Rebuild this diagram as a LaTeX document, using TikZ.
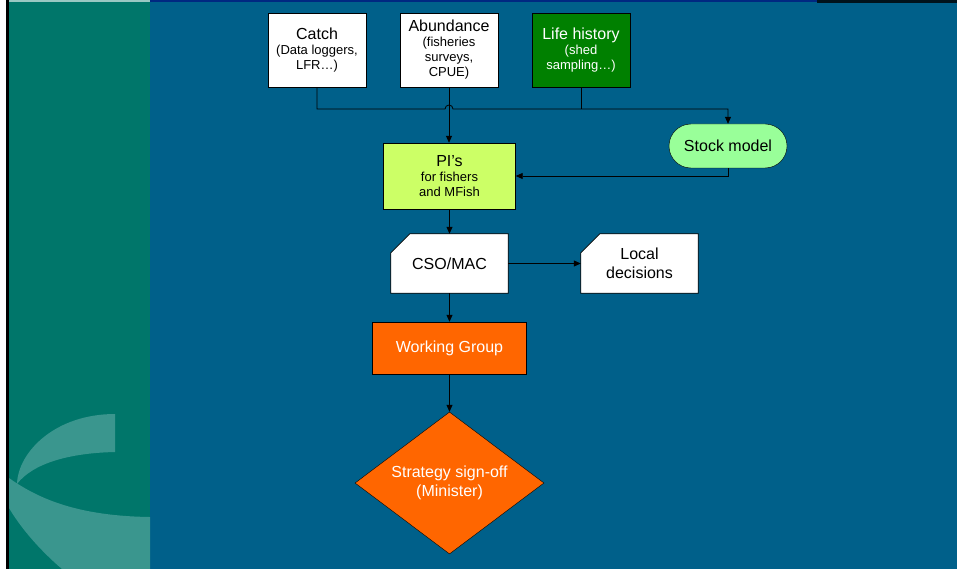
\documentclass[tikz,border=0pt]{standalone}
\usepackage{fontspec}
\setmainfont{Liberation Sans}
\usetikzlibrary{arrows.meta,shapes.geometric,backgrounds}

\definecolor{panelteal}{RGB}{0,118,106}
\definecolor{slideblue}{RGB}{0,96,138}
\definecolor{crescent}{RGB}{58,150,142}
\definecolor{lifegreen}{RGB}{0,128,0}
\definecolor{pigreen}{RGB}{204,255,102}
\definecolor{stockgreen}{RGB}{153,255,153}
\definecolor{wgorange}{RGB}{255,102,0}

\newcommand{\bigtxt}{\fontsize{16}{19}\selectfont}
\newcommand{\smalltxt}{\fontsize{13}{15}\selectfont}

\tikzset{
  databox/.style={draw=black,fill=white,minimum width=98pt,minimum height=74pt,inner sep=0pt,align=center,font=\smalltxt},
  cardbox/.style={minimum width=117pt,minimum height=59pt,inner sep=0pt,align=center,font=\bigtxt},
  flow/.style={line width=0.8pt,-{Triangle[length=7pt,width=6pt]}},
  plain/.style={line width=0.8pt}
}

\begin{document}
\begin{tikzpicture}[x=1pt,y=-1pt]
\useasboundingbox (0,0) rectangle (957,569);
% slide background: left panel, main area, crescent
\begin{scope}[on background layer]
\fill[white] (0,0) rectangle (6,569);
\fill[black] (6,0) rectangle (9,569);
\fill[panelteal] (9,0) rectangle (150,569);
\fill[slideblue] (150,0) rectangle (957,569);
\fill[panelteal!40!white] (9,0) rectangle (150,2);
\fill[slideblue!60!blue!70!black] (150,0) rectangle (817,2);
\fill[black!80!slideblue] (817,0) rectangle (957,3);
\fill[crescent] (115,414) -- (115,452) .. controls (70,453) and (33,463) .. (17,484)
   .. controls (18,452) and (55,414) .. cycle;
\fill[crescent] (9,478) .. controls (40,500) and (80,516) .. (150,517) -- (150,569) -- (62,569)
   .. controls (42,552) and (22,530) .. (9,508) -- cycle;
\end{scope}

% data sources
\node[databox] (catch) at (317,50) {{\bigtxt Catch}\\(Data loggers,\\LFR…)};
\node[databox] (abund) at (449,50) {{\bigtxt Abundance}\\(fisheries\\surveys,\\CPUE)};
\node[databox,fill=lifegreen,text=white] (life) at (581,50) {{\bigtxt Life history}\\(shed\\sampling…)};

\node[draw=black,fill=stockgreen,rounded corners=22pt,minimum width=118pt,minimum height=44pt,font=\bigtxt] (stock) at (728,146) {Stock model};
\node[draw=black,fill=pigreen,minimum width=132pt,minimum height=66pt,inner sep=0pt,align=center,font=\smalltxt] (pis) at (449.5,176) {{\bigtxt PI’s}\\for fishers\\and MFish};

\node[cardbox] (cso) at (449.5,263.5) {CSO/MAC};
\node[cardbox] (local) at (639.5,263.5) {Local\\decisions};
\begin{scope}[on background layer]
\foreach \n in {cso,local}
  \draw[plain,fill=white] (\n.south west) -- ([yshift=-19pt]\n.north west) -- ([xshift=19pt]\n.north west)
     -- (\n.north east) -- (\n.south east) -- cycle;
\end{scope}

\node[draw=black,fill=wgorange,text=white,minimum width=154pt,minimum height=52pt,font=\bigtxt] (wg) at (449.5,348) {Working Group};
\node[diamond,aspect=1.33,draw=black,fill=wgorange,text=white,minimum width=189pt,minimum height=142pt,inner sep=0pt,align=center,font=\bigtxt] (sign) at (449.5,483) {Strategy sign-off\\(Minister)};

% connectors
\coordinate (hopL) at (445,109);
\draw[flow] (catch.south) |- (hopL) arc[start angle=180,end angle=0,radius=4pt] -| (stock.north);
\draw[plain] (life.south) -- (life.south |- hopL);
\draw[flow] (abund.south) -- (abund.south |- pis.north);
\draw[flow] (stock.south) |- (pis.east);
\draw[flow] (pis.south) -- (cso.north);
\draw[flow] (cso.east) -- (local.west);
\draw[flow] (cso.south) -- (wg.north);
\draw[flow] (wg.south) -- (sign.north);
\end{tikzpicture}
\end{document}
